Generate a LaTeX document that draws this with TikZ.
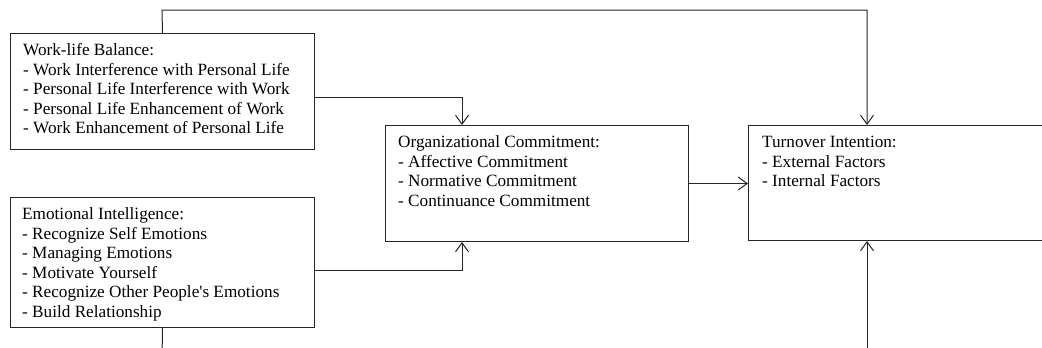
\documentclass[tikz,border=0pt]{standalone}
\usepackage{fontspec}
\setmainfont{Liberation Serif}[Ligatures=TeXOff]
\usetikzlibrary{arrows.meta}
\begin{document}
\begin{tikzpicture}[x=1pt,y=-1pt,
  box/.style={draw=black!85, line width=1pt, rectangle, inner sep=0pt, anchor=north west},
  txt/.style={anchor=north west, inner sep=0pt, align=left, font=\fontsize{17.2}{19.5}\selectfont, text=black},
  conn/.style={draw=black!85, line width=1pt},
  arr/.style={conn, -{Straight Barb[length=9pt,width=13pt]}}]
\useasboundingbox (0,0) rectangle (1042,348);
\clip (0,0) rectangle (1042,348);
\fill[white] (0,0) rectangle (1042,348);
% boxes
\node[box, minimum width=304pt, minimum height=116pt] (wlb) at (10,33) {};
\node[box, minimum width=304pt, minimum height=130pt] (ei) at (10,197) {};
\node[box, minimum width=303pt, minimum height=116pt] (oc) at (385,125) {};
\node[box, minimum width=310pt, minimum height=115pt] (ti) at (748,125) {};
% texts
\node[txt] (wlbt) at (23,43.5) {Work-life Balance:\\- Work Interference with Personal Life\\- Personal Life Interference with Work\\- Personal Life Enhancement of Work\\- Work Enhancement of Personal Life};
\node[txt] (eit) at (22,207.5) {Emotional Intelligence:\\- Recognize Self Emotions\\- Managing Emotions\\- Motivate Yourself\\- Recognize Other People's Emotions\\- Build Relationship};
\node[txt] (oct) at (398,135.5) {Organizational Commitment:\\- Affective Commitment\\- Normative Commitment\\- Continuance Commitment};
\node[txt] (tit) at (762,136) {Turnover Intention:\\- External Factors\\- Internal Factors};
% connector points
\coordinate (wlbR) at ([yshift=-6pt]wlb.east);
\coordinate (eiR) at ([yshift=-8pt]ei.east);
\coordinate (ocTop) at ([xshift=77pt]oc.north west);
\coordinate (ocBot) at ([xshift=77pt]oc.south west);
\coordinate (tiTop) at ([xshift=119pt]ti.north west);
\coordinate (tiBot) at ([xshift=119pt]ti.south west);
\coordinate (topLine) at (162,10);
\coordinate (eiDown) at (162,360);
\coordinate (tiUp) at (867,360);
% connectors
\draw[arr] (wlb.north) -- (topLine) -| (tiTop);
\draw[arr] (wlbR) -| (ocTop);
\draw[arr] (eiR) -| (ocBot);
\draw[arr] (oc.east) -- (oc.east -| ti.west);
\draw[conn] (ei.south) -- (eiDown);
\draw[arr] (tiUp) -- (tiBot);
\end{tikzpicture}
\end{document}
